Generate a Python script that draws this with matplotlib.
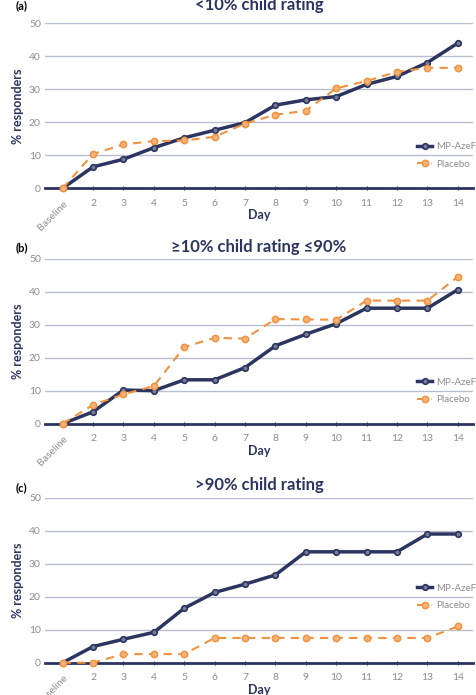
import matplotlib
matplotlib.use("Agg")
import matplotlib.pyplot as plt

# x categories
days = ["Baseline", "2", "3", "4", "5", "6", "7", "8", "9", "10", "11", "12", "13", "14"]

# (a) <10% child rating
a_mp = [0, 6.5, 8.8, 12.3, 15.3, 17.6, 19.9, 25.2, 26.8, 27.8, 31.5, 33.9, 38.1, 44.0]
a_pl = [0, 10.4, 13.3, 14.3, 14.5, 15.6, 19.6, 22.3, 23.5, 30.3, 32.5, 35.3, 36.5, 36.5]

# (b) >=10% child rating <=90%
b_mp = [0, 3.6, 10.2, 10.0, 13.3, 13.3, 17.0, 23.6, 27.1, 30.3, 35.0, 35.0, 35.0, 40.6]
b_pl = [0, 5.7, 8.9, 11.4, 23.2, 26.0, 25.8, 31.7, 31.6, 31.5, 37.3, 37.3, 37.3, 44.5]

# (c) >90% child rating
c_mp = [0, 4.9, 7.1, 9.2, 16.5, 21.3, 23.8, 26.6, 33.6, 33.6, 33.6, 33.6, 39.0, 39.0]
c_pl = [0, 0, 2.6, 2.6, 2.6, 7.5, 7.5, 7.5, 7.5, 7.5, 7.5, 7.5, 7.5, 11.0]

titles = ["<10% child rating", "≥10% child rating ≤90%", ">90% child rating"]
letters = ["(a)", "(b)", "(c)"]

NAVY = "#2c3560"
ORANGE = "#f0923e"
GRID = "#b9bdd0"
GREY = "#8c8c8c"

plt.rcParams['font.family'] = ['Lato', 'DejaVu Sans']

fig = plt.figure(figsize=(4.77, 6.95), dpi=100)

# data, bottom pixel of axes, legend y (axes frac), title offset px, letter offset px
panels = [(a_mp, a_pl, 188.3, 0.199, 18, 18),
          (b_mp, b_pl, 423.7, 0.199, 12, 11),
          (c_mp, c_pl, 662.7, 0.398, 13, 10)]
x = list(range(len(days)))
H = 695.0
AH = 165.0

for i, (mp, pl, ybot, legy, toff, loff) in enumerate(panels):
    ax = fig.add_axes([45 / 477, 1 - ybot / H, 428 / 477, AH / H])
    ax.plot(x, mp, color=NAVY, lw=2.5, marker='o', ms=4, mfc="#767c9a", mec=NAVY, mew=1.2,
            label="MP-AzeFlu", zorder=3, clip_on=False)
    ax.plot(x, pl, color=ORANGE, lw=1.5, ls=(0, (4, 3)), marker='o', ms=4.5, mfc="#f7b47a", mec=ORANGE,
            mew=1.1, label="Placebo", zorder=4, clip_on=False)
    ax.set_xlim(-0.58, 13.5)
    ax.set_ylim(0, 50)
    ax.set_yticks([0, 10, 20, 30, 40, 50])
    ax.set_xticks(x)
    ax.set_xticklabels(days)
    for s in ["top", "right", "left"]:
        ax.spines[s].set_visible(False)
    ax.spines["bottom"].set_color(NAVY)
    ax.spines["bottom"].set_linewidth(2)
    ax.spines["bottom"].set_zorder(2)
    ax.grid(axis='y', color=GRID, lw=1)
    ax.set_axisbelow(True)
    ax.tick_params(axis='y', length=0, pad=3, labelsize=7.5, labelcolor=GREY)
    ax.tick_params(axis='x', length=3, direction='inout', color=NAVY, pad=6, labelsize=7.5, labelcolor=GREY)
    lbl = ax.get_xticklabels()[0]
    lbl.set_rotation(45)
    lbl.set_ha('right')
    lbl.set_rotation_mode('anchor')
    ax.set_xlabel("Day", color=NAVY, fontweight='bold', fontsize=9)
    ax.xaxis.set_label_coords(0.5, -27 / AH)
    ax.xaxis.label.set_va('center')
    ax.set_ylabel("% responders", color=NAVY, fontweight='bold', fontsize=9)
    ax.yaxis.set_label_coords(-27 / 428, 0.5)
    ax.yaxis.label.set_va('center')
    ax.text(0.5, 1 + toff / AH, titles[i], transform=ax.transAxes, color=NAVY, fontweight='bold',
            fontsize=12, ha='center', va='center')
    ax.text(-29 / 428, 1 + loff / AH, letters[i], transform=ax.transAxes, fontsize=8, fontweight='bold',
            color='black', ha='left', va='center')
    ax.legend(loc='center left', bbox_to_anchor=(0.869, legy), frameon=False, fontsize=7,
              handlelength=1.6, handletextpad=0.4, labelspacing=0.85, borderpad=0, borderaxespad=0,
              labelcolor=GREY, numpoints=1)

fig.savefig("out.png", dpi=100)
